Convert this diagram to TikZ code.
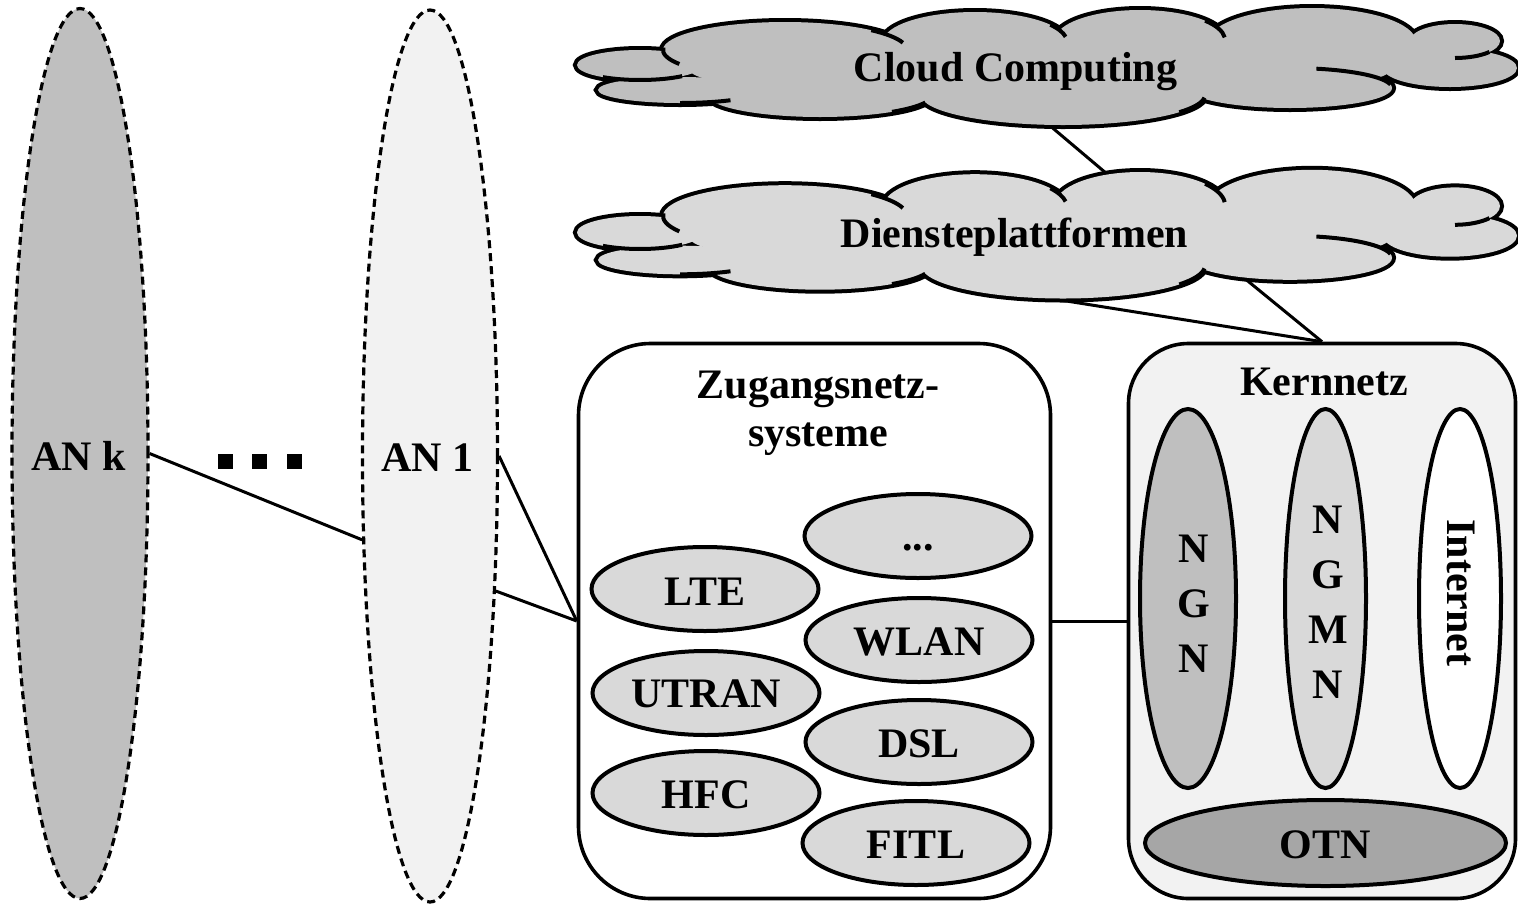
\documentclass[tikz,border=0pt]{standalone}
\usepackage{fontspec}
\setmainfont{Liberation Serif}
\usetikzlibrary{shapes.geometric}
\definecolor{gA}{gray}{0.75}
\definecolor{gB}{gray}{0.85}
\definecolor{gC}{gray}{0.95}
\definecolor{gD}{gray}{0.65}
\tikzset{
  txt/.style={font=\fontsize{42}{55}\selectfont\bfseries, inner sep=0pt, anchor=base},
  anell/.style={ellipse, draw, dash pattern=on 8pt off 5pt, line width=3.2pt, inner sep=0pt},
  sysell/.style={ellipse, draw, line width=4pt, fill=gB, minimum width=227pt, minimum height=84pt, inner sep=0pt},
  coreell/.style={ellipse, draw, line width=4pt, minimum height=379pt, inner sep=0pt},
  sysbox/.style={rectangle, draw, line width=3.6pt, inner sep=0pt},
  link/.style={line width=3pt},
  sq/.style={rectangle, fill=black, minimum size=15pt, inner sep=0pt},
  creasel/.style={line width=4pt},
}
\def\cloudlobes{640/65/63/15, 680/90/82/13, 785/50/122/28, 975/42/92/30, 1140/40/85/30, 1312/42/104/34, 1455/41/45/17, 1450/68/67/19, 1290/88/102/20, 1063/95/142/30, 820/95/112/22}
\newcommand\mycrease[6]{\draw[creasel] ([shift={(#1,#2)}]#5:#3 and #4) arc[start angle=#5, end angle=#6, x radius=#3, y radius=#4];}
\newcommand\drawcloud[1]{%
  \foreach \cx/\cy/\rx/\ry in \cloudlobes {\draw[line width=8pt] (\cx,\cy) ellipse [x radius=\rx, y radius=\ry];}
  \foreach \cx/\cy/\rx/\ry in \cloudlobes {\fill[#1] (\cx,\cy) ellipse [x radius=\rx, y radius=\ry];}
  \fill[#1] (1040,70) ellipse [x radius=350, y radius=30];
  \fill[#1] (1250,66) ellipse [x radius=80, y radius=22];
  \fill[#1] (1420,52) ellipse [x radius=25, y radius=12];
  \mycrease{640}{65}{63}{15}{48}{126}
  \mycrease{785}{50}{122}{28}{150}{185}
  \mycrease{785}{50}{122}{28}{-45}{-15}
  \mycrease{975}{42}{92}{30}{-35}{-10}
  \mycrease{1140}{40}{85}{30}{-40}{-5}
  \mycrease{1455}{41}{45}{17}{40}{90}
  \mycrease{1290}{88}{102}{20}{-75}{-10}
  \mycrease{680}{90}{82}{13}{52}{90}
  \mycrease{820}{95}{112}{22}{20}{50}
  \mycrease{1063}{95}{142}{30}{5}{35}
}
\begin{document}
\begin{tikzpicture}[x=1pt,y=-1pt]
\useasboundingbox (0,0) rectangle (1518,906);
% access networks
\node[anell, fill=gA, minimum width=136pt, minimum height=890pt] (ank) at (80,453.5) {};
\node[anell, fill=gC, minimum width=135pt, minimum height=892pt] (an1) at (430,456) {};
\node[txt] (ankt) at (78.5,470) {AN k};
\node[txt] (an1t) at (427.5,471) {AN 1};
\node[sq] (dot1) at (225.5,461) {};
\node[sq] (dot2) at (259.5,461) {};
\node[sq] (dot3) at (294.5,461) {};
% boxes
\node[sysbox, fill=white, rounded corners=72pt, minimum width=472pt, minimum height=555pt] (zug) at (814.5,621) {};
\node[sysbox, fill=gC, rounded corners=60pt, minimum width=387pt, minimum height=555pt] (kern) at (1322,621) {};
\node[txt] (zugt1) at (818,398) {Zugangsnetz-};
\node[txt] (zugt2) at (818,446) {systeme};
\node[txt] (kernt) at (1324,395) {Kernnetz};
% access systems
\node[sysell] (edots) at (918,536) {};
\node[sysell] (elte) at (705,589) {};
\node[sysell] (ewlan) at (919,640) {};
\node[sysell] (eutran) at (706,693) {};
\node[sysell] (edsl) at (919,742) {};
\node[sysell] (ehfc) at (706,793) {};
\node[sysell] (efitl) at (916,843) {};
\node[txt] (tdots) at (918,550) {...};
\node[txt] (tlte) at (705,605) {LTE};
\node[txt] (twlan) at (919,655) {WLAN};
\node[txt] (tutran) at (706,707) {UTRAN};
\node[txt] (tdsl) at (919,757) {DSL};
\node[txt] (thfc) at (706,808) {HFC};
\node[txt] (tfitl) at (916,858) {FITL};
% core
\node[coreell, fill=gA, minimum width=96pt] (ngn) at (1188,598.5) {};
\node[coreell, fill=gB, minimum width=81pt] (ngmn) at (1325.5,598.5) {};
\node[coreell, fill=white, minimum width=82pt] (inet) at (1460,598.5) {};
\node[ellipse, draw, line width=4pt, fill=gD, minimum width=361pt, minimum height=86pt, inner sep=0pt] (otn) at (1325.5,843) {};
\node[txt, anchor=north, align=center] (ngnt) at (1194,534.5) {N\\G\\N};
\node[txt, anchor=north, align=center] (ngmnt) at (1328,505.5) {N\\G\\M\\N};
\node[txt, anchor=center, rotate=-90] (inett) at (1461,593) {Internet};
\node[txt] (otnt) at (1325,858) {OTN};
% links
\draw[link] (ank.east) -- (an1.231);
\draw[link] (an1.east) -- (zug.west);
\draw[link] (an1.296) -- (zug.west);
\draw[link] (zug.east) -- (kern.west);
\coordinate (ccb) at (1042,119);
\coordinate (dpt) at (1113,179);
\coordinate (dpb1) at (1238,273);
\coordinate (dpb2) at (1035,296);
\draw[link] (ccb) -- (dpt);
\draw[link] (dpb1) -- (kern.north);
\draw[link] (dpb2) -- (kern.north);
% clouds
\drawcloud{gA}
\node[txt] (cct) at (1015.5,81) {Cloud Computing};
\begin{scope}[shift={(0,161)}, yscale=1.1]
\drawcloud{gB}
\end{scope}
\node[txt] (dpt2) at (1014.5,247) {Diensteplattformen};
\end{tikzpicture}
\end{document}
